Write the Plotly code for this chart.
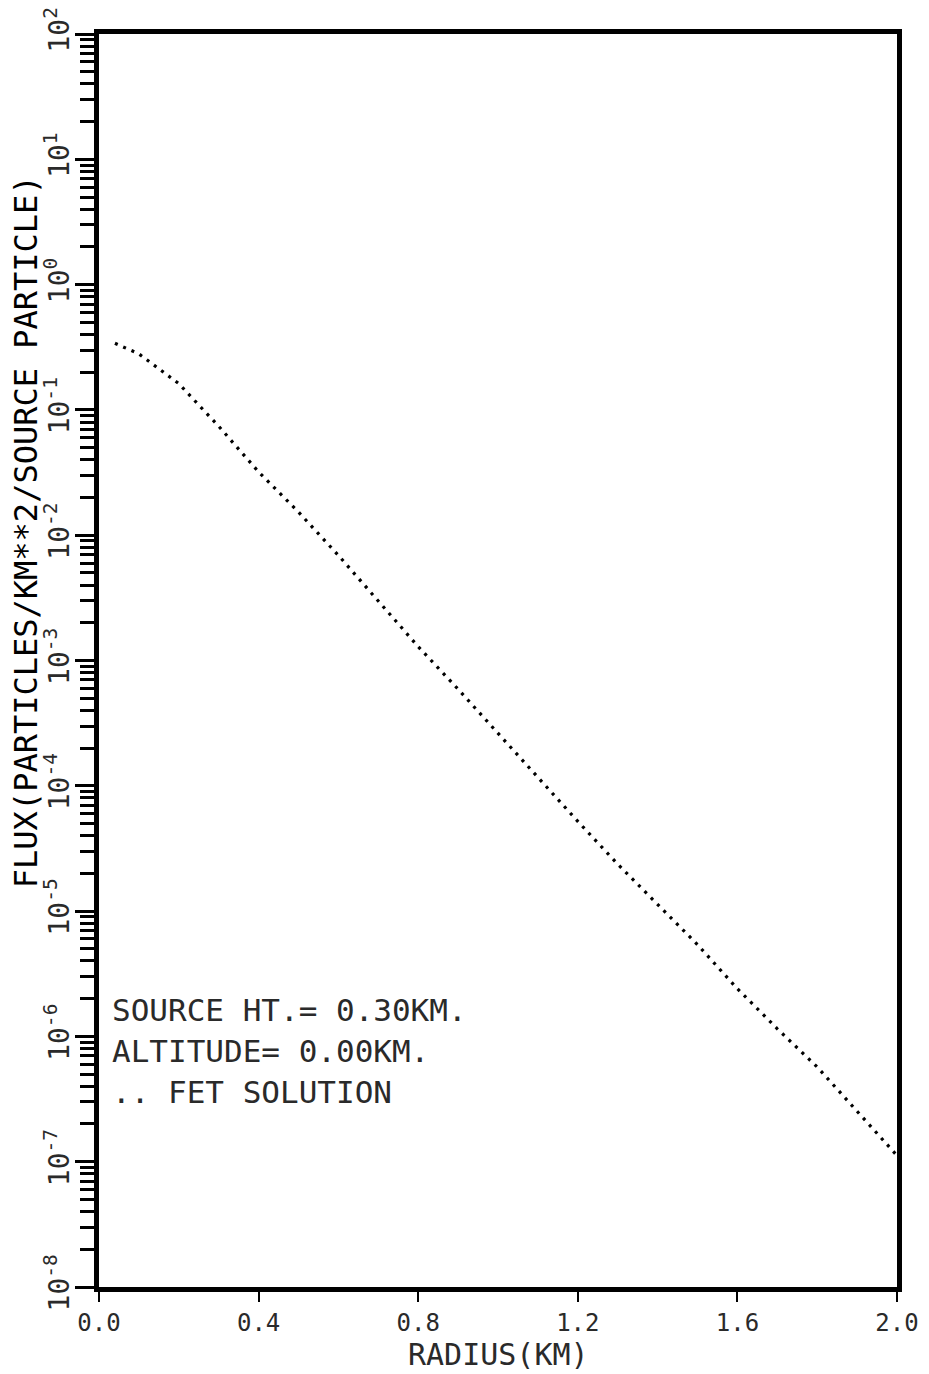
import plotly.graph_objects as go

# Radial flux profile for a point source (FET solution)
radius_km = [0.04, 0.10, 0.20, 0.30, 0.40, 0.50, 0.60, 0.70, 0.80, 0.90, 1.00,
             1.10, 1.20, 1.30, 1.40, 1.50, 1.60, 1.70, 1.80, 1.90, 2.00]
flux = [0.34, 0.28, 0.162, 0.074, 0.032, 0.0153, 6.9e-3, 3.0e-3, 1.29e-3, 5.9e-4,
        2.63e-4, 1.15e-4, 5.2e-5, 2.37e-5, 1.12e-5, 5.4e-6, 2.4e-6, 1.15e-6,
        5.7e-7, 2.5e-7, 1.12e-7]

x_ticks = [0.0, 0.4, 0.8, 1.2, 1.6, 2.0]
x_ticklabels = ["0.0", "0.4", "0.8", "1.2", "1.6", "2.0"]
y_exponents = [-8, -7, -6, -5, -4, -3, -2, -1, 0, 1, 2]
y_ticklabels = [f"10<sup>{e}</sup>" for e in y_exponents]

info_lines = ["SOURCE HT.= 0.30KM.", "ALTITUDE= 0.00KM.", ".. FET SOLUTION"]

FONT = "DejaVu Sans Mono"
INK = "#2a2a2a"

fig = go.Figure()
fig.add_trace(go.Scatter(
    x=radius_km, y=flux, mode="lines",
    line=dict(color="black", width=3.2, dash="3px,6px"),
    showlegend=False,
))

minor_vals = [m * 10.0 ** e for e in y_exponents[:-1] for m in range(2, 10)]

fig.update_layout(
    width=929, height=1374,
    margin=dict(l=99, r=32, t=34, b=87, autoexpand=False),
    paper_bgcolor="white", plot_bgcolor="white",
    font=dict(family=FONT, color=INK),
    xaxis=dict(
        range=[0, 2], tickmode="array", tickvals=x_ticks, ticktext=x_ticklabels,
        ticks="outside", ticklen=10, tickwidth=2, tickcolor="black",
        tickfont=dict(family=FONT, size=24, color=INK),
        showgrid=False, zeroline=False, automargin=False,
        showline=True, linewidth=5, linecolor="black", mirror=True,
    ),
    yaxis=dict(
        type="log", range=[-8, 2], tickmode="array",
        tickvals=[10.0 ** e for e in y_exponents], ticktext=y_ticklabels,
        ticks="outside", ticklen=19, tickwidth=3, tickcolor="black",
        tickangle=-90, tickfont=dict(family=FONT, size=28, color=INK),
        ticklabelstandoff=-5, automargin=False,
        showgrid=False, zeroline=False,
        showline=True, linewidth=5, linecolor="black", mirror=True,
        minor=dict(tickvals=minor_vals, ticks="outside", ticklen=14,
                   tickwidth=2.5, tickcolor="black", showgrid=False),
    ),
)

# Axis titles
fig.add_annotation(
    text="RADIUS(KM)", xref="paper", yref="paper", x=0.5, y=-0.0535,
    xanchor="center", yanchor="middle", showarrow=False,
    font=dict(family=FONT, size=30, color=INK),
)
fig.add_annotation(
    text="FLUX(PARTICLES/KM**2/SOURCE PARTICLE)", xref="paper", yref="paper",
    x=(26 - 99) / 800, y=(1287 - 532) / 1253, textangle=-90,
    xanchor="center", yanchor="middle", showarrow=False,
    font=dict(family=FONT, size=32, color="black"),
)

# Run description block
for i, line in enumerate(info_lines):
    y_px = 1010 + 41 * i
    fig.add_annotation(
        text=line, xref="paper", yref="paper",
        x=(110 - 99) / 800, y=(1287 - y_px) / 1253,
        xanchor="left", yanchor="middle", showarrow=False,
        font=dict(family=FONT, size=31, color=INK),
    )

fig.write_html("out.html")
